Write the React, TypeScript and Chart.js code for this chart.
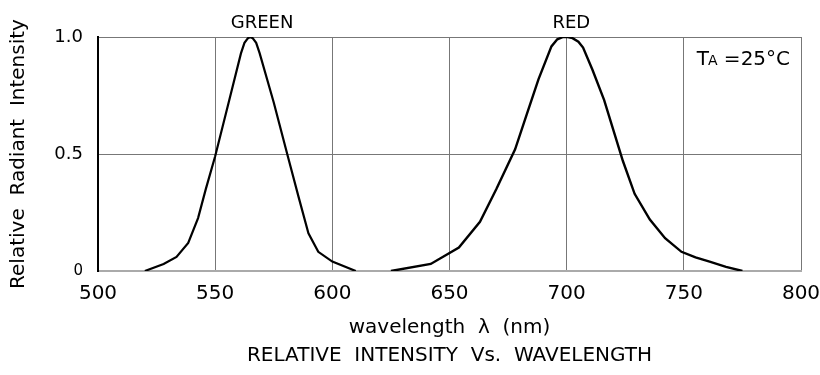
import { useEffect, useRef } from 'react';
import { Chart, registerables } from 'chart.js';

Chart.register(...registerables);

// Data
const greenWavelength = [520, 528, 533.5, 538.5, 542.7, 546, 550, 556, 561, 562.5, 564, 565, 566, 567.5, 569, 575, 581, 585.5, 589.8, 594, 600, 610];
const greenIntensity = [0, 0.03, 0.06, 0.12, 0.226, 0.35, 0.49, 0.73, 0.93, 0.975, 0.995, 1.0, 0.995, 0.975, 0.93, 0.72, 0.49, 0.32, 0.161, 0.082, 0.04, 0];

const redWavelength = [625, 642, 654, 663, 670, 678, 683, 688, 693.5, 696, 698.5, 700.5, 702.5, 705, 707, 711, 716, 720, 724, 729, 735.5, 742, 749, 755, 761, 768, 775];
const redIntensity = [0, 0.03, 0.1, 0.21, 0.35, 0.52, 0.67, 0.82, 0.96, 0.99, 1.0, 1.0, 0.995, 0.98, 0.955, 0.86, 0.73, 0.6, 0.47, 0.33, 0.22, 0.14, 0.082, 0.058, 0.04, 0.018, 0];

const xTicks = [500, 550, 600, 650, 700, 750, 800];
const yTicks = [0, 0.5, 1.0];
const yTickLabels = ['0', '0.5', '1.0'];

const peakLabels = ['GREEN', 'RED'];
const peakLabelAt = [570, 702];

const yTitle = 'Relative  Radiant  Intensity';
const xTitle = ['wavelength  λ  (nm)', 'RELATIVE  INTENSITY  Vs.  WAVELENGTH'];
const condMain = 'T';
const condSub = 'A';
const condRest = ' =25°C';
const condAt = 755.5;

const FONT = "'DejaVu Sans', sans-serif";

const annotatePlugin = {
  id: 'annotate',
  afterDraw(chart: any) {
    const { ctx, scales } = chart;
    const x = scales.x;
    ctx.save();
    ctx.fillStyle = '#000';
    ctx.textBaseline = 'alphabetic';
    ctx.font = `18px ${FONT}`;
    ctx.textAlign = 'center';
    peakLabels.forEach((t, i) => {
      ctx.fillText(t, x.getPixelForValue(peakLabelAt[i]), 28);
    });
    ctx.textAlign = 'left';
    let px = x.getPixelForValue(condAt);
    const by = 65;
    ctx.font = `20px ${FONT}`;
    ctx.fillText(condMain, px, by);
    px += ctx.measureText(condMain).width - 1;
    ctx.font = `14px ${FONT}`;
    ctx.fillText(condSub, px, by);
    px += ctx.measureText(condSub).width;
    ctx.font = `20px ${FONT}`;
    ctx.fillText(condRest, px, by);
    ctx.restore();
  },
};

export default function App() {
  const ref = useRef<HTMLCanvasElement | null>(null);

  useEffect(() => {
    if (!ref.current) return;
    const chart = new Chart(ref.current, {
      type: 'line',
      data: {
        datasets: [
          {
            label: 'GREEN',
            data: greenWavelength.map((w, i) => ({ x: w, y: greenIntensity[i] })),
            borderColor: '#000',
            borderWidth: 2.2,
            pointRadius: 0,
            tension: 0,
            fill: false,
          },
          {
            label: 'RED',
            data: redWavelength.map((w, i) => ({ x: w, y: redIntensity[i] })),
            borderColor: '#000',
            borderWidth: 2.4,
            pointRadius: 0,
            tension: 0,
            fill: false,
          },
        ],
      },
      options: {
        animation: false,
        responsive: true,
        maintainAspectRatio: false,
        layout: { padding: { left: 0, right: 19, top: 37, bottom: 0 } },
        plugins: { legend: { display: false }, tooltip: { enabled: false } },
        scales: {
          x: {
            type: 'linear',
            min: 500,
            max: 800,
            afterBuildTicks: (s: any) => {
              s.ticks = xTicks.map((v) => ({ value: v }));
            },
            afterFit: (s: any) => {
              s.height = 104;
              s.paddingLeft = 0;
              s.paddingRight = 0;
            },
            ticks: {
              maxRotation: 0,
              autoSkip: false,
              padding: 11,
              color: '#000',
              font: { family: FONT, size: 20 },
              callback: (v: any) => String(v),
            },
            grid: {
              drawTicks: false,
              lineWidth: 1,
              color: (c: any) => (c.tick && c.tick.value === 500 ? 'rgba(0,0,0,0)' : '#777'),
            },
            border: { display: true, color: '#aaa', width: 2 },
            title: {
              display: true,
              text: xTitle,
              color: '#000',
              font: { family: FONT, size: 20, lineHeight: 1.4 },
              padding: { top: 0, bottom: 5 },
            },
          },
          y: {
            type: 'linear',
            min: 0,
            max: 1,
            afterBuildTicks: (s: any) => {
              s.ticks = yTicks.map((v) => ({ value: v }));
            },
            afterFit: (s: any) => {
              s.width = 98;
              s.paddingTop = 0;
              s.paddingBottom = 0;
            },
            ticks: {
              padding: 15,
              color: '#000',
              font: (c: any) => ({ family: FONT, size: c.tick && c.tick.value === 0 ? 15 : 18 }),
              callback: (_v: any, i: number) => yTickLabels[i],
            },
            grid: {
              drawTicks: false,
              lineWidth: 1,
              color: (c: any) => (c.tick && c.tick.value === 0 ? 'rgba(0,0,0,0)' : '#777'),
            },
            border: { display: true, color: '#000', width: 2 },
            title: {
              display: true,
              text: yTitle,
              color: '#000',
              font: { family: FONT, size: 20, lineHeight: 1.2 },
              padding: { top: 7, bottom: 0 },
            },
          },
        },
      },
      plugins: [annotatePlugin],
    } as any);
    return () => chart.destroy();
  }, []);

  return (
    <div style={{ position: 'absolute', left: 0, top: 0, width: 820, height: 375, background: '#fff' }}>
      <canvas ref={ref} />
    </div>
  );
}
